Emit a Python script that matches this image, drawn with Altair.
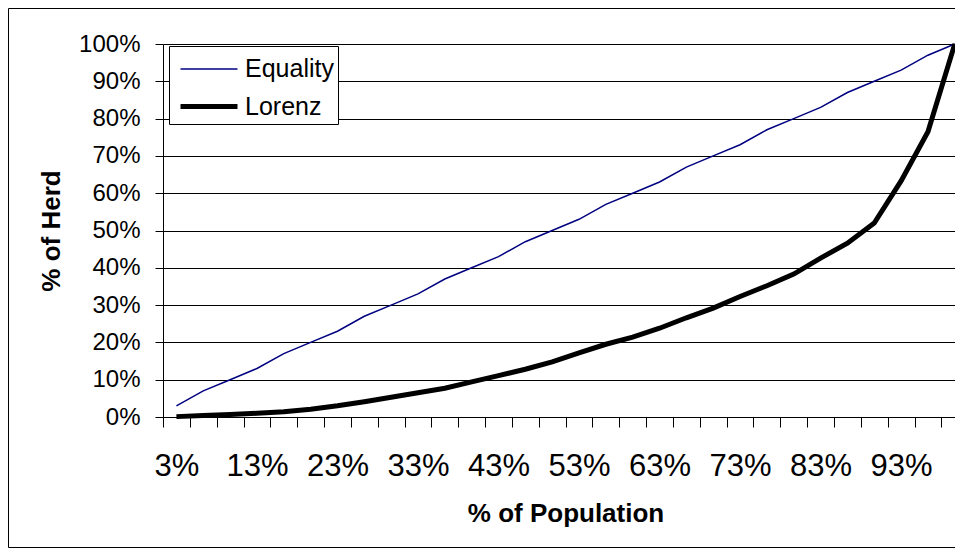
import altair as alt
import pandas as pd

# ---- data ----
population_labels = ["3%", "7%", "10%", "13%", "17%", "20%", "23%", "27%", "30%", "33%",
                     "37%", "40%", "43%", "47%", "50%", "53%", "57%", "60%", "63%", "67%",
                     "70%", "73%", "77%", "80%", "83%", "87%", "90%", "93%", "97%", "100%"]
equality = [3, 7, 10, 13, 17, 20, 23, 27, 30, 33, 37, 40, 43, 47, 50, 53, 57, 60, 63, 67,
            70, 73, 77, 80, 83, 87, 90, 93, 97, 100]
lorenz = [0.1, 0.4, 0.7, 1.0, 1.4, 2.1, 3.0, 4.1, 5.3, 6.5, 7.7, 9.4, 11.1, 12.8, 14.8,
          17.2, 19.5, 21.4, 23.8, 26.6, 29.2, 32.3, 35.2, 38.3, 42.6, 46.6, 52.0, 63.3,
          76.5, 100.0]
series_names = ["Equality", "Lorenz"]
y_ticks = [0, 10, 20, 30, 40, 50, 60, 70, 80, 90, 100]

rows = []
for i, lab in enumerate(population_labels):
    rows.append({"i": i, "label": lab, "series": "Equality", "value": equality[i] / 100})
    rows.append({"i": i, "label": lab, "series": "Lorenz", "value": lorenz[i] / 100})
df = pd.DataFrame(rows)

W, H = 792, 373
step = 26.84
x_max = -0.5 + W / step
FONT = "Liberation Sans"

label_array = "[" + ",".join("'" + l + "'" for l in population_labels) + "]"
label_expr = "datum.value % 3 == 0 ? " + label_array + "[datum.value] : ''"

x_enc = alt.X(
    "i:Q",
    scale=alt.Scale(domain=[-0.5, x_max], nice=False, zero=False),
    axis=alt.Axis(
        values=list(range(len(population_labels))),
        labelExpr=label_expr,
        tickOffset=-step / 2,
        labelOffset=step / 2,
        tickSize=10,
        tickColor="black",
        domainColor="black",
        labelFontSize=31,
        labelBaseline="alphabetic",
        labelPadding=48,
        labelOverlap=False,
        labelFlush=False,
        labelColor="black",
        grid=False,
        title="% of Population",
        titleFontSize=26,
        titleFontWeight="bold",
        titleX=402.5,
        titleY=104.7,
        titleAlign="center",
        titleBaseline="alphabetic",
        titleColor="black",
    ),
)

y_enc = alt.Y(
    "value:Q",
    scale=alt.Scale(domain=[0, 1], nice=False),
    axis=alt.Axis(
        values=[v / 100 for v in y_ticks],
        format=".0%",
        tickSize=8,
        tickColor="black",
        domainColor="black",
        labelFontSize=24,
        labelPadding=15,
        labelColor="black",
        grid=True,
        gridColor="black",
        gridWidth=1,
        title="% of Herd",
        titleFontSize=26,
        titleFontWeight="bold",
        titleAngle=270,
        titleX=-104,
        titleY=H / 2,
        titleAlign="center",
        titleBaseline="alphabetic",
        titleColor="black",
    ),
)

legend = alt.Legend(
    orient="none",
    legendX=6,
    legendY=2,
    padding=4,
    strokeColor="black",
    fillColor="white",
    symbolType="M-0.722,0H2.444",
    symbolSize=1296,
    labelFontSize=25,
    labelOffset=31,
    labelColor="black",
    rowPadding=4,
)

lines = alt.Chart(df).mark_line().encode(
    x=x_enc,
    y=y_enc,
    color=alt.Color("series:N", scale=alt.Scale(domain=series_names, range=["#000080", "#000000"]),
                    legend=legend, title=None),
    strokeWidth=alt.StrokeWidth("series:N", scale=alt.Scale(domain=series_names, range=[1.5, 5]),
                                legend=legend, title=None),
    order="i:Q",
)

one = alt.Data(values=[{"f": 1}])
frame_left = alt.Chart(one).mark_rule(color="black", strokeWidth=1).encode(
    x=alt.value(-154.5), y=alt.value(-35.5), y2=alt.value(H + 130.5)
)
frame_top = alt.Chart(one).mark_rule(color="black", strokeWidth=1).encode(
    x=alt.value(-154.5), x2=alt.value(W + 20), y=alt.value(-35.5)
)
frame_bottom = alt.Chart(one).mark_rule(color="black", strokeWidth=1).encode(
    x=alt.value(-154.5), x2=alt.value(W + 20), y=alt.value(H + 130.5)
)

chart = alt.layer(lines, frame_left, frame_top, frame_bottom).properties(
    width=W,
    height=H,
    padding={"left": 155, "top": 36, "right": 0, "bottom": 131},
    autosize=alt.AutoSizeParams(type="none"),
    background="white",
).configure(font=FONT).configure_view(strokeWidth=0)

chart.save("out.html", embed_options={"renderer": "svg", "actions": False})
